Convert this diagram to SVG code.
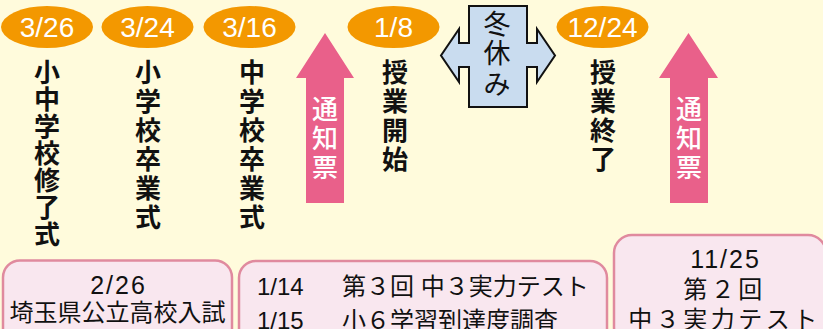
<svg xmlns="http://www.w3.org/2000/svg" width="823" height="329" viewBox="0 0 823 329">
<style>
.bg{fill:#fffbdc}
.ov{fill:#f39800}
.ovt{font-family:"Liberation Sans",Arial,sans-serif;font-size:28px;fill:#ffffff;text-anchor:middle}
.vt{font-family:"Noto Sans CJK JP",sans-serif;font-size:26px;font-weight:bold;fill:#111111;text-anchor:middle}
.pa{fill:#e9608a}
.pat{font-family:"Noto Sans CJK JP",sans-serif;font-size:26px;font-weight:500;fill:#ffffff;text-anchor:middle}
.wb{fill:#c9dcef;stroke:#111111;stroke-width:2}
.wbt{font-family:"Noto Sans CJK JP",sans-serif;font-size:27px;fill:#111111;text-anchor:middle}
.bx{fill:#f9e7ef;stroke:#e08a9e;stroke-width:2.5}
.bt{font-family:"Liberation Sans","Noto Sans CJK JP",sans-serif;font-size:24px;fill:#111111}
.bd{font-family:"Liberation Sans",Arial,sans-serif;font-size:25px;fill:#111111;text-anchor:middle;letter-spacing:2px}
</style>
<rect class="bg" x="0" y="0" width="823" height="329"/>

<g id="d-0326">
<ellipse class="ov" cx="47" cy="27" rx="46" ry="21"/>
<text class="ovt" x="47" y="37">3/26</text>
<text class="vt"><tspan x="47" y="82">小</tspan><tspan x="47" y="109">中</tspan><tspan x="47" y="136">学</tspan><tspan x="47" y="163">校</tspan><tspan x="47" y="190">修</tspan><tspan x="47" y="217">了</tspan><tspan x="47" y="244">式</tspan></text>
</g>

<g id="d-0324">
<ellipse class="ov" cx="147.5" cy="27" rx="46" ry="21"/>
<text class="ovt" x="147.5" y="37">3/24</text>
<text class="vt"><tspan x="148" y="82">小</tspan><tspan x="148" y="111">学</tspan><tspan x="148" y="140">校</tspan><tspan x="148" y="169">卒</tspan><tspan x="148" y="198">業</tspan><tspan x="148" y="227">式</tspan></text>
</g>

<g id="d-0316">
<ellipse class="ov" cx="249.5" cy="27" rx="46" ry="21"/>
<text class="ovt" x="249.5" y="37">3/16</text>
<text class="vt"><tspan x="252" y="82">中</tspan><tspan x="252" y="111">学</tspan><tspan x="252" y="140">校</tspan><tspan x="252" y="169">卒</tspan><tspan x="252" y="198">業</tspan><tspan x="252" y="227">式</tspan></text>
</g>

<g id="notice-1">
<polygon class="pa" points="325,33 354,78 344,78 344,203 306,203 306,78 296,78"/>
<text class="pat"><tspan x="325" y="119">通</tspan><tspan x="325" y="148">知</tspan><tspan x="325" y="177">票</tspan></text>
</g>

<g id="d-0108">
<ellipse class="ov" cx="393.5" cy="27" rx="46" ry="21"/>
<text class="ovt" x="393.5" y="37">1/8</text>
<text class="vt"><tspan x="395" y="82">授</tspan><tspan x="395" y="111">業</tspan><tspan x="395" y="140">開</tspan><tspan x="395" y="169">始</tspan></text>
</g>

<g id="winter">
<polygon class="wb" points="469,6 527,6 527,43 537,43 537,29 555,55.5 537,82 537,67 527,67 527,107 469,107 469,67 459,67 459,82 441,55.5 459,29 459,43 469,43"/>
<text class="wbt"><tspan x="497" y="34">冬</tspan><tspan x="497" y="63">休</tspan><tspan x="497" y="94">み</tspan></text>
</g>

<g id="d-1224">
<ellipse class="ov" cx="602.5" cy="27" rx="46" ry="21"/>
<text class="ovt" x="602.5" y="37">12/24</text>
<text class="vt"><tspan x="603" y="82">授</tspan><tspan x="603" y="111">業</tspan><tspan x="603" y="140">終</tspan><tspan x="603" y="169">了</tspan></text>
</g>

<g id="notice-2">
<polygon class="pa" points="688.5,33 718,78 708,78 708,203 670,203 670,78 659,78"/>
<text class="pat"><tspan x="689" y="119">通</tspan><tspan x="689" y="148">知</tspan><tspan x="689" y="177">票</tspan></text>
</g>

<g id="box-0226">
<rect class="bx" x="3" y="260.5" width="229" height="90" rx="17"/>
<text class="bd" x="118.5" y="294">2/26</text>
<text class="bt" x="117.5" y="321" text-anchor="middle">埼玉県公立高校入試</text>
</g>

<g id="box-0114">
<rect class="bx" x="239" y="261" width="368" height="90" rx="17"/>
<text class="bt" x="257" y="295" font-size="25">1/14</text>
<text class="bt" x="342" y="295">第３回 中３実力テスト</text>
<text class="bt" x="257" y="329" font-size="25">1/15</text>
<text class="bt" x="342" y="329">小６学習到達度調査</text>
</g>

<g id="box-1125">
<rect class="bx" x="614" y="235" width="212" height="110" rx="18"/>
<text class="bd" x="725.5" y="268">11/25</text>
<text class="bt" x="724.5" y="298" text-anchor="middle" letter-spacing="3.5">第２回</text>
<text class="bt" x="724.5" y="328" text-anchor="middle" letter-spacing="3.5">中３実力テスト</text>
</g>

<g id="connectors"></g>
</svg>
